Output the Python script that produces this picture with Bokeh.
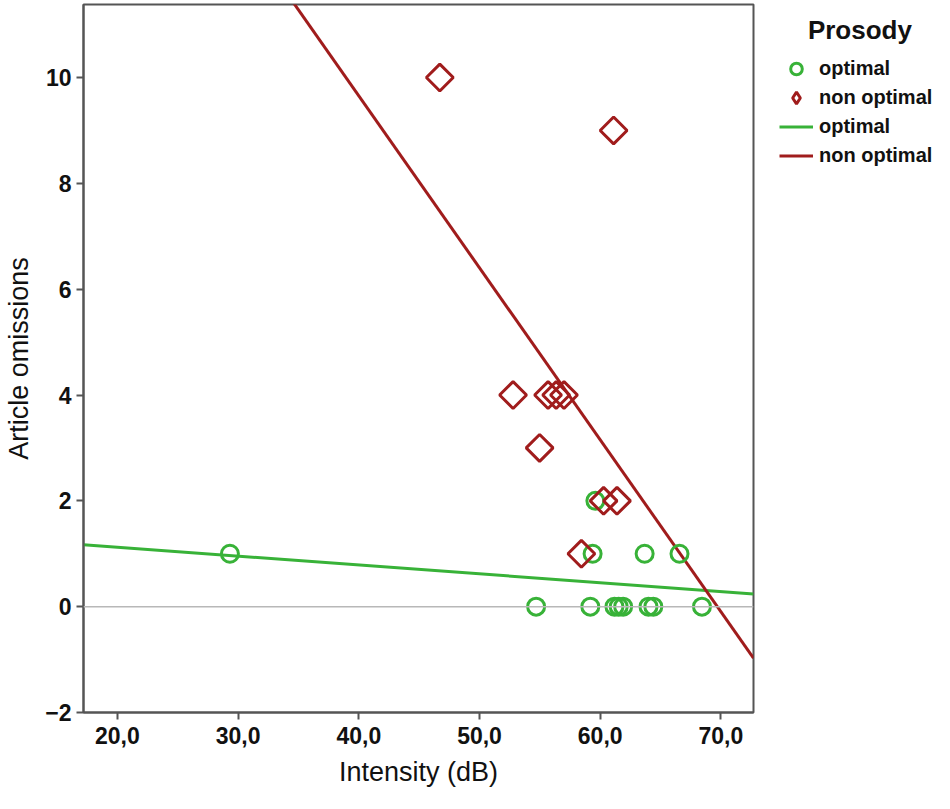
import numpy as np
from bokeh.plotting import figure
from bokeh.models import Range1d, FixedTicker, Legend, LegendItem, Span
from bokeh.embed import file_html
from bokeh.resources import INLINE

# ---- data ----
opt_x = [29.32, 59.37, 63.68, 66.57, 59.60, 54.69, 59.18, 61.18, 61.53, 61.90, 64.00, 64.40, 68.43]
opt_y = [1, 1, 1, 1, 2, 0, 0, 0, 0, 0, 0, 0, 0]
non_x = [46.71, 61.11, 52.78, 55.68, 56.35, 57.00, 54.98, 60.28, 61.39, 58.44]
non_y = [10, 9, 4, 4, 4, 4, 3, 2, 2, 1]

x_ticks = [20, 30, 40, 50, 60, 70]
x_tick_labels = ["20,0", "30,0", "40,0", "50,0", "60,0", "70,0"]
y_ticks = [-2, 0, 2, 4, 6, 8, 10]
x_limits = [17.19, 72.70]
y_limits = [-2.0, 11.38]

series_names = ["optimal", "non optimal"]
legend_title = "Prosody"
green = "#38b238"
red = "#a01c1c"
frame_col = "#555555"

p = figure(frame_width=670, frame_height=708, output_backend="svg", toolbar_location=None,
           x_range=Range1d(*x_limits), y_range=Range1d(*y_limits),
           min_border_left=83, min_border_right=170, min_border_top=4, min_border_bottom=80)
p.xgrid.visible = False
p.ygrid.visible = False
p.outline_line_color = frame_col
p.outline_line_width = 2
p.background_fill_color = "white"
p.border_fill_color = "white"

# zero reference line
p.add_layout(Span(location=0, dimension="width", line_color="#b8b8b8", line_width=1.5))

# regression lines (least squares fits of the data)
xs_line = np.array(x_limits)
fo = np.polyfit(opt_x, opt_y, 1)
fn = np.polyfit(non_x, non_y, 1)
l_opt = p.line(xs_line, np.polyval(fo, xs_line), line_color=green, line_width=3)
l_non = p.line(xs_line, np.polyval(fn, xs_line), line_color=red, line_width=3)

# points
c_opt = p.scatter(opt_x, opt_y, marker="circle", size=17, fill_alpha=0,
                  line_color=green, line_width=3)
d_non = p.scatter(non_x, non_y, marker="square", size=19, angle=np.pi / 4,
                  fill_alpha=0, line_color=red, line_width=3)
# legend key for the diamonds (legend glyphs are drawn unrotated); no visible point
d_key = p.scatter(x=[np.nan], y=[np.nan], marker="diamond", fill_alpha=0,
                  line_color=red, line_width=3)

# axes
for ax in (p.xaxis[0], p.yaxis[0]):
    ax.axis_line_color = frame_col
    ax.axis_line_width = 2
    ax.major_tick_line_color = frame_col
    ax.major_tick_line_width = 2
    ax.major_tick_out = 7
    ax.major_tick_in = 0
    ax.minor_tick_line_color = None
    ax.major_label_text_font = "Liberation Sans"
    ax.major_label_text_font_style = "bold"
    ax.major_label_text_font_size = "23px"
    ax.major_label_text_color = "#111111"
    ax.axis_label_text_font = "Liberation Sans"
    ax.axis_label_text_font_style = "normal"
    ax.axis_label_text_font_size = "27px"
    ax.axis_label_text_color = "#111111"

p.xaxis.ticker = FixedTicker(ticks=x_ticks)
p.xaxis.major_label_overrides = {t: l for t, l in zip(x_ticks, x_tick_labels)}
p.xaxis.axis_label = "Intensity (dB)"
p.xaxis.major_label_standoff = 7
p.xaxis.axis_label_standoff = 10

p.yaxis.ticker = FixedTicker(ticks=y_ticks)
p.yaxis.axis_label = "Article omissions"
p.yaxis.major_label_standoff = 5
p.yaxis.axis_label_standoff = 8

legend = Legend(items=[
    LegendItem(label=series_names[0], renderers=[c_opt]),
    LegendItem(label=series_names[1], renderers=[d_key]),
    LegendItem(label=series_names[0], renderers=[l_opt]),
    LegendItem(label=series_names[1], renderers=[l_non]),
], location=(26, 542), title="\u00a0\u00a0\u00a0\u00a0" + legend_title)
legend.title_text_font = "Liberation Sans"
legend.title_text_font_style = "bold"
legend.title_text_font_size = "26px"
legend.title_text_color = "#111111"
legend.title_standoff = 8
legend.label_text_font = "Liberation Sans"
legend.label_text_font_style = "bold"
legend.label_text_font_size = "20px"
legend.label_text_color = "#111111"
legend.glyph_width = 34
legend.glyph_height = 29
legend.label_height = 29
legend.label_standoff = 6
legend.spacing = 0
legend.padding = 0
legend.margin = 0
legend.border_line_alpha = 0
legend.background_fill_alpha = 0
p.add_layout(legend, "right")

open("out.html", "w").write(file_html(p, INLINE))
